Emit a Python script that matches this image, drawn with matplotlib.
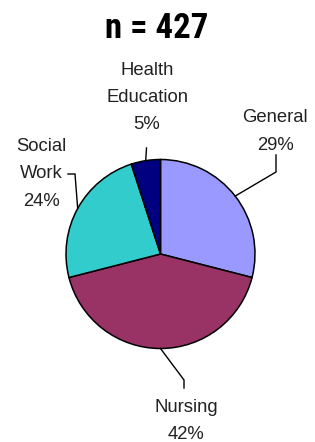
import numpy as np
import matplotlib
matplotlib.use('Agg')
import matplotlib.pyplot as plt
from matplotlib import font_manager

labels = ['General', 'Nursing', 'Social\nWork', 'Health\nEducation']
shares = [29, 42, 24, 5]
colors = ['#9999FF', '#993366', '#33CCCC', '#000080']
title = 'n = 427'

W, H = 315, 442
fig = plt.figure(figsize=(W / 100, H / 100), dpi=100)
ax = fig.add_axes([0, 0, 1, 1])

cx, cy, r = 160.5, H - 254, 94.5
wedges, _ = ax.pie(shares, colors=colors, startangle=90, counterclock=False,
                   center=(cx, cy), radius=r, frame=True,
                   wedgeprops=dict(edgecolor='black', linewidth=1.1))
ax.set_xlim(0, W)
ax.set_ylim(0, H)
ax.set_aspect('equal')
ax.axis('off')

font = ['Liberation Sans', 'DejaVu Sans']

# label text position (px from top-left) and leader elbow points
label_pos = [(275, 131.5), (186, 421), (41, 174), (147, 97.5)]
leaders = [
    [(276, 172), (276, 155)],
    [(184, 380), (184, 388)],
    [(75, 174), (68, 174)],
    [(146.5, 148)],
]

for w, lab, pct, (tx, ty), pts in zip(wedges, labels, shares, label_pos, leaders):
    mid = np.deg2rad((w.theta1 + w.theta2) / 2)
    ex, ey = cx + r * np.cos(mid), cy + r * np.sin(mid)
    xs = [ex] + [p[0] for p in pts]
    ys = [ey] + [H - p[1] for p in pts]
    ax.plot(xs, ys, color='black', lw=1.0, solid_joinstyle='miter')
    ax.text(tx, H - ty, f'{lab}\n{pct}%', ha='center', va='center',
            fontsize=13.3, color='#222222', linespacing=1.8, family=font)

# condensed bold face for the title if one is installed
fonts = font_manager.fontManager.ttflist
narrow = [f for f in fonts if f.name in ('Liberation Sans Narrow', 'Roboto Condensed')]
dv_cond = [f for f in fonts if f.name == 'DejaVu Sans' and 'ondensed' in f.fname and 'Bold' in f.fname]
if narrow:
    fp = font_manager.FontProperties(family=narrow[0].name, weight='bold', size=25)
elif dv_cond:
    fp = font_manager.FontProperties(fname=dv_cond[0].fname, size=25)
else:
    fp = font_manager.FontProperties(family='Liberation Sans', weight='bold', size=25)
ax.text(157, H - 29, title, ha='center', va='center', fontproperties=fp)

fig.savefig('out.png', dpi=100)
